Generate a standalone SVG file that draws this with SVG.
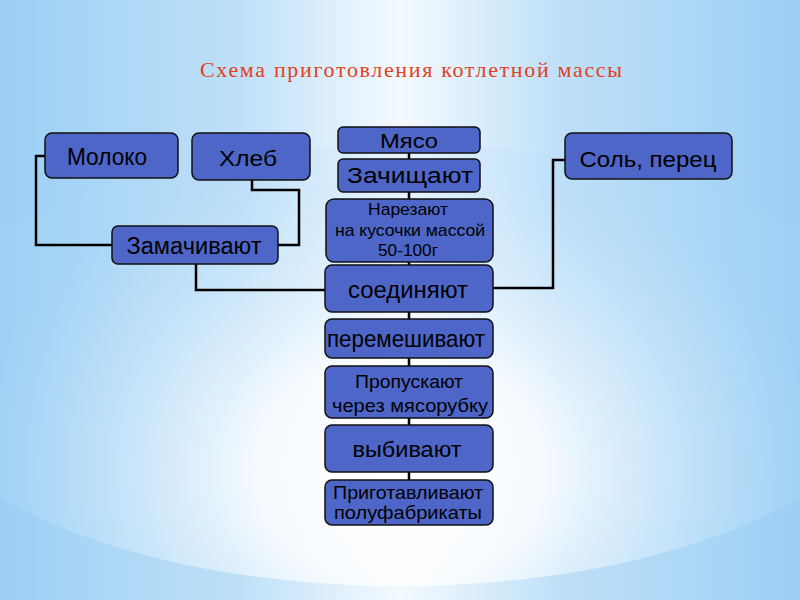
<svg xmlns="http://www.w3.org/2000/svg" width="800" height="600" viewBox="0 0 800 600">
  <defs>
    <linearGradient id="bg" x1="0" y1="0" x2="1" y2="0">
      <stop offset="0" stop-color="#9ccff5"/>
      <stop offset="0.3" stop-color="#bfe0f8"/>
      <stop offset="0.5" stop-color="#f4faff"/>
      <stop offset="0.7" stop-color="#bfe0f8"/>
      <stop offset="1" stop-color="#9ccff5"/>
    </linearGradient>
    <radialGradient id="glow" cx="400" cy="470" r="430" gradientUnits="userSpaceOnUse" gradientTransform="translate(400 470) scale(1 0.75) translate(-400 -470)">
      <stop offset="0" stop-color="#ffffff" stop-opacity="1"/>
      <stop offset="0.35" stop-color="#ffffff" stop-opacity="0.8"/>
      <stop offset="0.75" stop-color="#d6ecfb" stop-opacity="0.35"/>
      <stop offset="1" stop-color="#b0d9f7" stop-opacity="0.15"/>
    </radialGradient>
    <clipPath id="ell"><ellipse cx="400" cy="365" rx="500" ry="221"/></clipPath>
  </defs>
  <style>
    .box { fill: #4d66c8; stroke: #111; stroke-width: 1.5; }
    .lbl { font-family: "Liberation Sans", Arial, sans-serif; fill: #000; text-anchor: middle; }
    .conn { fill: none; stroke: #000; stroke-width: 2.5; }
    .title { font-family: "Liberation Serif", "Times New Roman", serif; fill: #e3411c; font-size: 22px; }
  </style>

  <rect x="0" y="0" width="800" height="600" fill="url(#bg)"/>
  <rect x="0" y="0" width="800" height="600" fill="url(#glow)" clip-path="url(#ell)"/>

  <text class="title" x="200" y="77" textLength="422" lengthAdjust="spacing">Схема приготовления котлетной массы</text>

  <g id="connectors">
    <polyline class="conn" points="45,156 36,156 36,245 112,245"/>
    <polyline class="conn" points="252,180 252,190 299,190 299,245 278,245"/>
    <polyline class="conn" points="196,264 196,290 325,290"/>
    <polyline class="conn" points="565,160 553,160 553,288 493,288"/>
    <line class="conn" x1="409" y1="153" x2="409" y2="480"/>
  </g>

  <g id="moloko">
    <rect class="box" x="45" y="133" width="133" height="45" rx="7"/>
    <text class="lbl" x="107" y="165" font-size="24" textLength="80" lengthAdjust="spacingAndGlyphs">Молоко</text>
  </g>
  <g id="hleb">
    <rect class="box" x="192" y="133" width="118" height="47" rx="7"/>
    <text class="lbl" x="248" y="166" font-size="22" textLength="58" lengthAdjust="spacingAndGlyphs">Хлеб</text>
  </g>
  <g id="zamachivayut">
    <rect class="box" x="112" y="226" width="166" height="38" rx="6"/>
    <text class="lbl" x="194" y="254" font-size="23" textLength="135" lengthAdjust="spacingAndGlyphs">Замачивают</text>
  </g>
  <g id="myaso">
    <rect class="box" x="338" y="127" width="142" height="26" rx="5"/>
    <text class="lbl" x="409" y="148" font-size="21" textLength="58" lengthAdjust="spacingAndGlyphs">Мясо</text>
  </g>
  <g id="zachishchayut">
    <rect class="box" x="338" y="159" width="142" height="33" rx="5"/>
    <text class="lbl" x="410" y="183" font-size="22" textLength="126" lengthAdjust="spacingAndGlyphs">Зачищают</text>
  </g>
  <g id="narezayut">
    <rect class="box" x="326" y="199" width="167" height="63" rx="8"/>
    <text class="lbl" x="408" y="215" font-size="17" textLength="80" lengthAdjust="spacingAndGlyphs">Нарезают</text>
    <text class="lbl" x="410" y="236" font-size="17" textLength="150" lengthAdjust="spacingAndGlyphs">на кусочки массой</text>
    <text class="lbl" x="408" y="256" font-size="17" textLength="60" lengthAdjust="spacingAndGlyphs">50-100г</text>
  </g>
  <g id="soedinyayut">
    <rect class="box" x="325" y="265" width="168" height="47" rx="7"/>
    <text class="lbl" x="408" y="298" font-size="24" textLength="120" lengthAdjust="spacingAndGlyphs">соединяют</text>
  </g>
  <g id="peremeshivayut">
    <rect class="box" x="325" y="319" width="168" height="39" rx="7"/>
    <text class="lbl" x="406" y="347" font-size="24" textLength="158" lengthAdjust="spacingAndGlyphs">перемешивают</text>
  </g>
  <g id="propuskayut">
    <rect class="box" x="325" y="366" width="168" height="52" rx="7"/>
    <text class="lbl" x="409" y="388" font-size="19" textLength="108" lengthAdjust="spacingAndGlyphs">Пропускают</text>
    <text class="lbl" x="410" y="412" font-size="19" textLength="156" lengthAdjust="spacingAndGlyphs">через мясорубку</text>
  </g>
  <g id="vybivayut">
    <rect class="box" x="325" y="425" width="168" height="47" rx="7"/>
    <text class="lbl" x="407" y="457" font-size="22" textLength="109" lengthAdjust="spacingAndGlyphs">выбивают</text>
  </g>
  <g id="prigotavlivayut">
    <rect class="box" x="325" y="480" width="168" height="45" rx="7"/>
    <text class="lbl" x="408" y="499" font-size="19" textLength="150" lengthAdjust="spacingAndGlyphs">Приготавливают</text>
    <text class="lbl" x="408" y="519" font-size="19" textLength="148" lengthAdjust="spacingAndGlyphs">полуфабрикаты</text>
  </g>
  <g id="sol-perec">
    <rect class="box" x="565" y="133" width="167" height="46" rx="7"/>
    <text class="lbl" x="648" y="167" font-size="22" textLength="137" lengthAdjust="spacingAndGlyphs">Соль, перец</text>
  </g>
</svg>
